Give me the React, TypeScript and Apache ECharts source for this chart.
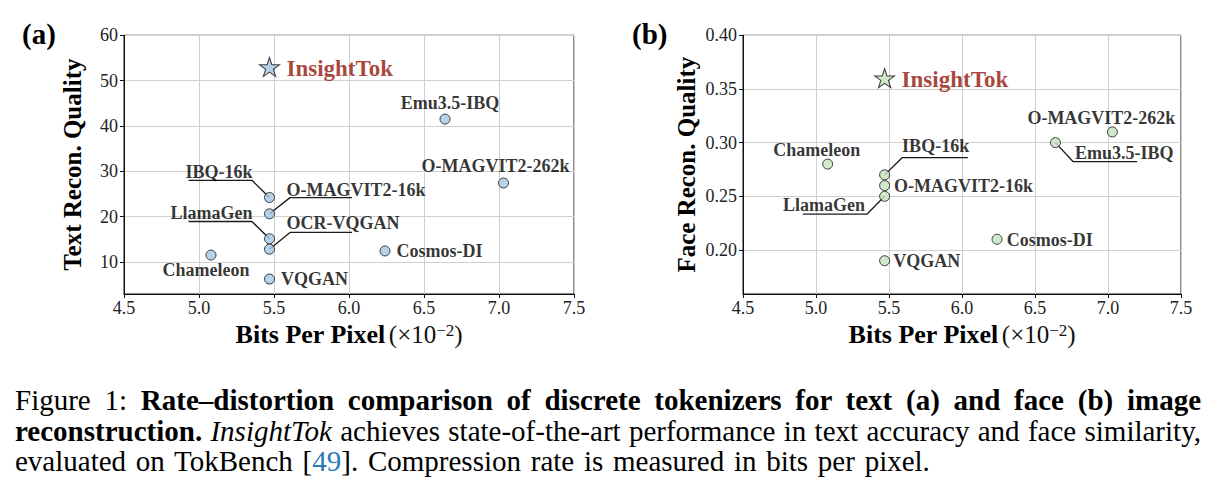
import React, { useEffect, useRef } from "react";
import * as echarts from "echarts";

// Tokenizers and their compression rate (bits per pixel, x1e-2)
const models = [
  "InsightTok",
  "Emu3.5-IBQ",
  "O-MAGVIT2-262k",
  "IBQ-16k",
  "O-MAGVIT2-16k",
  "LlamaGen",
  "OCR-VQGAN",
  "Chameleon",
  "VQGAN",
  "Cosmos-DI",
];
const bitsPerPixel = [5.47, 6.64, 7.03, 5.47, 5.47, 5.47, 5.47, 5.08, 5.47, 6.24];

// Text reconstruction quality (panel a)
const textQuality = [53.0, 41.5, 27.4, 24.2, 20.6, 15.1, 12.8, 11.5, 6.2, 12.4];
// Face reconstruction quality (panel b); OCR-VQGAN is not reported
const faceQuality = [0.36, 0.30, 0.31, 0.27, 0.26, 0.25, null, 0.28, 0.19, 0.21];

const textTicks = [10, 20, 30, 40, 50, 60];
const faceTicks = [0.2, 0.25, 0.3, 0.35, 0.4];

// Leader lines joining crowded labels to their markers: [bpp, quality] elbows
const textLeaders = [
  [[4.93, 28.0], [5.353, 28.0], [5.47, 24.2]],
  [[5.47, 20.6], [5.607, 24.17], [6.02, 24.17]],
  [[4.93, 18.9], [5.353, 18.9], [5.47, 15.1]],
  [[5.47, 12.8], [5.607, 16.5], [6.02, 16.5]],
];
const faceLeaders = [
  [[5.47, 0.27], [5.59, 0.286], [6.04, 0.286]],
  [[5.47, 0.25], [5.35, 0.2335], [4.91, 0.2335]],
  [[6.64, 0.3], [6.76, 0.2824], [7.2, 0.2824]],
];

const SERIF = '"Liberation Serif", "Times New Roman", serif';
const BLUE = "#a7c7e7";
const GREEN = "#c6e3bd";
const HIGHLIGHT = "#921407";
const STAR =
  "path://M50,2 L61.2,36.2 L97.6,36.2 L68.2,57.4 L79.4,91.6 L50,70.4 L20.6,91.6 L31.8,57.4 L2.4,36.2 L38.8,36.2 Z";

// Label placement relative to each marker centre: [align, dx, dy]
const textLabelPlacement: Record<string, [string, number, number]> = {
  InsightTok: ["left", 17, 1],
  "Emu3.5-IBQ": ["center", 5, -16],
  "O-MAGVIT2-262k": ["center", -8, -17],
  "IBQ-16k": ["right", -17, -25],
  "O-MAGVIT2-16k": ["left", 17, -24],
  LlamaGen: ["right", -17, -26],
  "OCR-VQGAN": ["left", 17, -26],
  Chameleon: ["center", -5, 15],
  VQGAN: ["left", 11.5, 0],
  "Cosmos-DI": ["left", 11.5, 0],
};
const faceLabelPlacement: Record<string, [string, number, number]> = {
  InsightTok: ["left", 17, 1],
  "Emu3.5-IBQ": ["left", 19.6, 10],
  "O-MAGVIT2-262k": ["center", -11, -13.5],
  "IBQ-16k": ["left", 17.5, -28.4],
  "O-MAGVIT2-16k": ["left", 9.5, 0],
  LlamaGen: ["right", -19.6, 9],
  Chameleon: ["center", -11, -14],
  VQGAN: ["left", 8.7, 0.5],
  "Cosmos-DI": ["left", 9.7, 0.4],
};

function pointData(
  values: (number | null)[],
  placement: Record<string, [string, number, number]>,
  fill: string
) {
  const out: any[] = [];
  models.forEach((name, i) => {
    const v = values[i];
    if (v === null || v === undefined) return;
    const [align, dx, dy] = placement[name];
    const isStar = name === "InsightTok";
    out.push({
      name,
      value: [bitsPerPixel[i], v],
      symbol: isStar ? STAR : "circle",
      symbolSize: isStar ? [20, 19] : 10,
      itemStyle: { color: fill, borderColor: "#111", borderWidth: 1 },
      label: {
        show: true,
        position: "inside",
        align,
        verticalAlign: "middle",
        offset: [dx, dy],
        formatter: "{b}",
        fontFamily: SERIF,
        fontWeight: "bold",
        fontSize: isStar ? 23 : 18,
        color: isStar ? HIGHLIGHT : "#000",
        textBorderWidth: 0,
        textBorderColor: "transparent",
      },
    });
  });
  return out;
}

function leaderSeries(lines: number[][][], axisIndex: number) {
  return lines.map((pts) => ({
    type: "line",
    xAxisIndex: axisIndex,
    yAxisIndex: axisIndex,
    data: pts,
    symbol: "none",
    silent: true,
    z: 1,
    lineStyle: { color: "#1a1a1a", width: 1.3 },
  }));
}

function xAxis(gridIndex: number) {
  return {
    type: "value",
    gridIndex,
    min: 4.5,
    max: 7.5,
    interval: 0.5,
    name: "{b|Bits Per Pixel} {r|(×10}{s|−2}{r|)}",
    nameLocation: "middle",
    nameGap: 21,
    nameTextStyle: {
      rich: {
        b: { fontFamily: SERIF, fontSize: 26, fontWeight: "bold", color: "#000" },
        r: { fontFamily: SERIF, fontSize: 25, color: "#111" },
        s: { fontFamily: SERIF, fontSize: 17, color: "#111", verticalAlign: "top" },
      },
    },
    axisLine: { show: true, lineStyle: { color: "#111", width: 1 } },
    axisTick: { show: true, length: 4, lineStyle: { color: "#111" } },
    axisLabel: {
      margin: 5,
      fontFamily: SERIF,
      fontSize: 18,
      color: "#222",
      formatter: (v: number) => v.toFixed(1),
    },
    splitLine: { show: true, lineStyle: { color: "#cfcfcf", width: 1 } },
  };
}

function yAxis(
  gridIndex: number,
  name: string,
  nameGap: number,
  min: number,
  max: number,
  ticks: number[],
  digits: number
) {
  return {
    type: "value",
    gridIndex,
    min,
    max,
    name,
    nameLocation: "middle",
    nameGap,
    nameTextStyle: { fontFamily: SERIF, fontSize: 25, fontWeight: "bold", color: "#000" },
    axisLine: { show: true, lineStyle: { color: "#111", width: 1 } },
    axisTick: { show: true, length: 4, customValues: ticks, lineStyle: { color: "#111" } },
    axisLabel: {
      margin: 6,
      customValues: ticks,
      fontFamily: SERIF,
      fontSize: 18,
      color: "#222",
      formatter: (v: number) => v.toFixed(digits),
    },
    splitLine: { show: true, lineStyle: { color: "#cfcfcf", width: 1 } },
  };
}

function Chart() {
  const ref = useRef<HTMLDivElement>(null);
  useEffect(() => {
    document.body.style.margin = "0";
    const chart = echarts.init(ref.current!, null, { renderer: "svg" });
    chart.setOption({
      animation: false,
      backgroundColor: "#fff",
      grid: [
        { left: 124, top: 35.3, width: 450, height: 258.7, show: true, borderColor: "#111", borderWidth: 1 },
        { left: 743, top: 35.3, width: 438, height: 258.7, show: true, borderColor: "#111", borderWidth: 1 },
      ],
      xAxis: [xAxis(0), xAxis(1)],
      yAxis: [
        yAxis(0, "Text Recon. Quality", 39, 2.9, 60, textTicks, 0),
        yAxis(1, "Face Recon. Quality", 44, 0.159, 0.4, faceTicks, 2),
      ],
      graphic: [
        { type: "text", left: 22, top: 19, style: { text: "(a)", font: `bold 29px ${SERIF}`, fill: "#000" } },
        { type: "text", left: 632, top: 19, style: { text: "(b)", font: `bold 29px ${SERIF}`, fill: "#000" } },
      ],
      series: [
        ...leaderSeries(textLeaders, 0),
        ...leaderSeries(faceLeaders, 1),
        {
          type: "scatter",
          xAxisIndex: 0,
          yAxisIndex: 0,
          z: 3,
          data: pointData(textQuality, textLabelPlacement, BLUE),
        },
        {
          type: "scatter",
          xAxisIndex: 1,
          yAxisIndex: 1,
          z: 3,
          data: pointData(faceQuality, faceLabelPlacement, GREEN),
        },
      ],
    });
    return () => chart.dispose();
  }, []);
  return <div ref={ref} style={{ position: "absolute", left: 0, top: 0, width: 1222, height: 372 }} />;
}

const justified: React.CSSProperties = {
  whiteSpace: "nowrap",
  textAlign: "justify",
  textAlignLast: "justify",
};

export default function App() {
  return (
    <div style={{ position: "relative", width: 1222, height: 497, background: "#fff" }}>
      <Chart />
      <div
        style={{
          position: "absolute",
          left: 15,
          top: 385,
          width: 1186,
          fontFamily: SERIF,
          fontSize: 29,
          lineHeight: "30.5px",
          color: "#000",
        }}
      >
        <div style={justified}>
          Figure 1: <b>Rate–distortion comparison of discrete tokenizers for text (a) and face (b) image</b>
        </div>
        <div style={justified}>
          <b>reconstruction.</b> <i>InsightTok</i> achieves state-of-the-art performance in text accuracy and face similarity,
        </div>
        <div style={{ whiteSpace: "nowrap", wordSpacing: "2.5px" }}>
          evaluated on TokBench [<span style={{ color: "#2a7ab9" }}>49</span>]. Compression rate is measured in bits per pixel.
        </div>
      </div>
    </div>
  );
}
